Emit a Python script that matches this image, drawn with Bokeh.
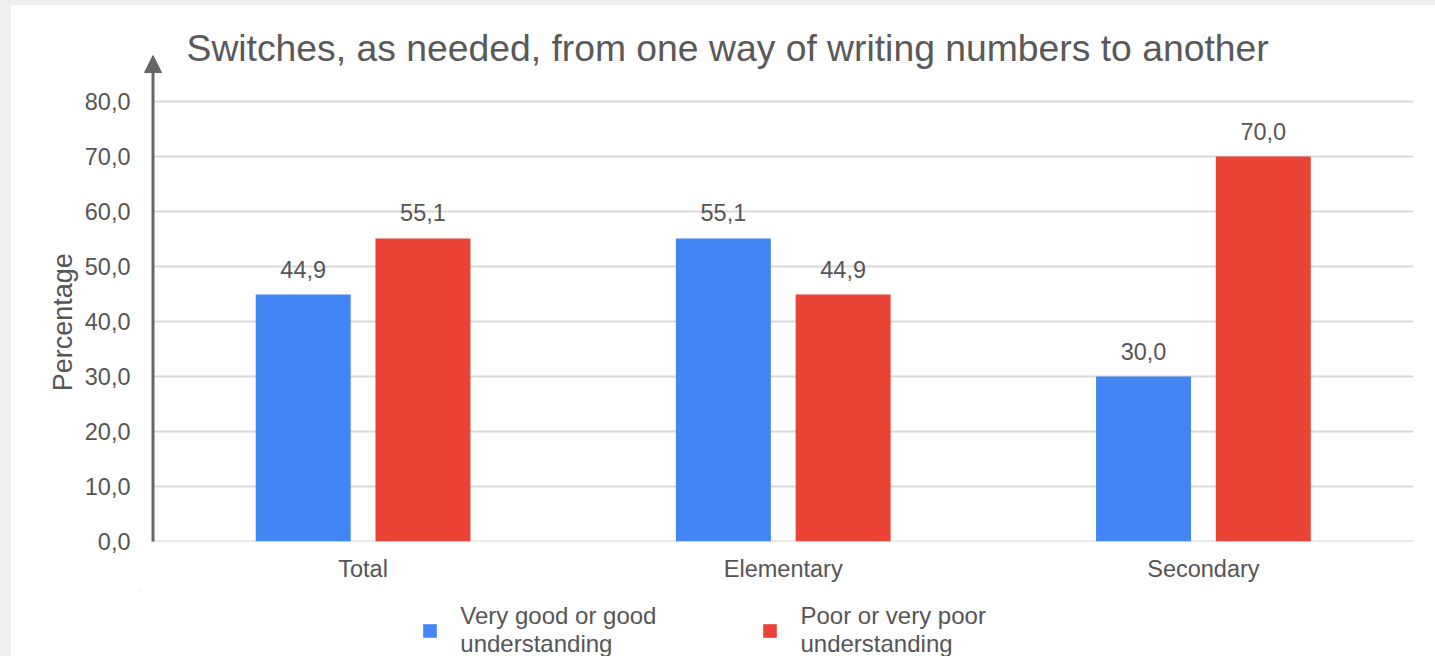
from bokeh.plotting import figure
from bokeh.models import (ColumnDataSource, Range1d, FixedTicker, Arrow, NormalHead,
                          Label, LabelSet, Legend, LegendItem)
from bokeh.transform import dodge
from bokeh.layouts import column
from bokeh.core.properties import value
from bokeh.embed import file_html
from bokeh.resources import INLINE

# ---- data ----
categories = ["Total", "Elementary", "Secondary"]
good = [44.9, 55.1, 30.0]
poor = [55.1, 44.9, 70.0]
series_names = ["Very good or good\nunderstanding", "Poor or very poor\nunderstanding"]
y_ticks = [0, 10, 20, 30, 40, 50, 60, 70, 80]
y_tick_labels = ["0,0", "10,0", "20,0", "30,0", "40,0", "50,0", "60,0", "70,0", "80,0"]
title_text = "Switches, as needed, from one way of writing numbers to another"
y_title = "Percentage"

BLUE = "#4285F4"
RED = "#EA4335"
TXT = "#555555"
FONT = "Liberation Sans"
PAGE_BG = "#efefef"

# ---- geometry (canvas pixels) ----
OFF_X, OFF_Y = 11, 5
LEG_H = 66                         # strip under the chart holding the legend
FIG_W = 1435 - OFF_X
FIG_H = 656 - OFF_Y - LEG_H
FR_L, FR_R, FR_T, FR_B = 140, 1413, 20, 541
AX_X = 152.5                      # where the category band starts (y axis line)
PX_PER_UNIT = (541 - 101) / 80.0
ncat = len(categories)
PX_PER_CAT = (FR_R - AX_X) / ncat
x_start = -(AX_X - FR_L) / PX_PER_CAT
y_end = (FR_B - FR_T) / PX_PER_UNIT

def sy_to_data(py):
    return (FR_B - py) / PX_PER_UNIT

def sx_to_data(px):
    return (px - AX_X) / PX_PER_CAT

centers = [i + 0.5 for i in range(ncat)]

src = ColumnDataSource(dict(
    x=centers, good=good, poor=poor,
    good_lbl=[f"{v:.1f}".replace(".", ",") for v in good],
    poor_lbl=[f"{v:.1f}".replace(".", ",") for v in poor],
))
grid_src = ColumnDataSource(dict(y=y_ticks, x0=[0] * len(y_ticks), x1=[ncat] * len(y_ticks)))

p = figure(x_range=Range1d(x_start, ncat), y_range=Range1d(0, y_end),
           width=FIG_W, height=FIG_H, output_backend="svg", toolbar_location=None,
           min_border_left=FR_L - OFF_X, min_border_right=1435 - FR_R,
           min_border_top=FR_T - OFF_Y, min_border_bottom=OFF_Y + FIG_H - FR_B)
p.border_fill_color = "white"
p.background_fill_color = "white"
p.outline_line_color = None
p.margin = (OFF_Y, 0, 0, OFF_X)

# grid lines (from the tick values)
p.segment(x0="x0", x1="x1", y0="y", y1="y", source=grid_src, line_color="#dadada", line_width=2)

BW = 0.226
OFS = 0.1425
bar_kw = dict(width=BW, source=src, line_color=None)
r1 = p.vbar(x=dodge("x", -OFS), top="good", fill_color=BLUE, **bar_kw)
r2 = p.vbar(x=dodge("x", OFS), top="poor", fill_color=RED, **bar_kw)

for col, ycol, off in (("good_lbl", "good", -OFS), ("poor_lbl", "poor", OFS)):
    ls = LabelSet(x=dodge("x", off), y=ycol, text=col, source=src,
                  y_offset=17, text_align="center", text_baseline="alphabetic",
                  text_font=value(FONT), text_font_size=value("23.5px"), text_color=TXT)
    p.add_layout(ls)

# axes
p.yaxis.ticker = FixedTicker(ticks=y_ticks)
p.yaxis.bounds = (0, 80)
p.yaxis.major_label_overrides = {t: l for t, l in zip(y_ticks, y_tick_labels)}
p.yaxis.axis_line_color = None
p.yaxis.major_tick_line_color = None
p.yaxis.minor_tick_line_color = None
p.yaxis.major_label_standoff = 4
p.yaxis.major_label_text_font = FONT
p.yaxis.major_label_text_font_size = "23.5px"
p.yaxis.major_label_text_color = TXT
# trailing no-break spaces centre the visible word on the 0-80 span, as in the original
p.yaxis.axis_label = y_title + "\u00a0" * 11
p.yaxis.axis_label_text_font = FONT
p.yaxis.axis_label_text_font_size = "27px"
p.yaxis.axis_label_text_font_style = "normal"
p.yaxis.axis_label_text_color = TXT
p.yaxis.axis_label_standoff = 4

p.xaxis.ticker = FixedTicker(ticks=centers)
p.xaxis.major_label_overrides = {c: n for c, n in zip(centers, categories)}
p.xaxis.axis_line_color = None
p.xaxis.major_tick_line_color = None
p.xaxis.minor_tick_line_color = None
p.xaxis.major_label_standoff = 8
p.xaxis.major_label_text_font = FONT
p.xaxis.major_label_text_font_size = "23.5px"
p.xaxis.major_label_text_color = TXT

p.xgrid.grid_line_color = None
p.ygrid.grid_line_color = None

# arrow axis line
p.add_layout(Arrow(end=NormalHead(size=17, fill_color="#666666", line_color="#666666"),
                   x_start=0, y_start=sy_to_data(543),
                   x_end=0, y_end=sy_to_data(55),
                   line_color="#666666", line_width=3))

# title
p.add_layout(Label(x=sx_to_data(186), y=sy_to_data(47), text=title_text,
                   text_font=FONT, text_font_size="37.3px", text_color="#595959",
                   text_baseline="alphabetic", text_align="left"))

# ---- legend strip (same data, bars kept outside its visible ranges) ----
leg = figure(width=FIG_W, height=LEG_H, output_backend="svg", toolbar_location=None,
             x_range=Range1d(10, 11), y_range=Range1d(-2, -1),
             x_axis_type=None, y_axis_type=None,
             min_border_left=0, min_border_right=0, min_border_top=0, min_border_bottom=0)
leg.border_fill_color = "white"
leg.background_fill_alpha = 0
leg.outline_line_color = None
leg.xgrid.grid_line_color = None
leg.ygrid.grid_line_color = None
leg.margin = (0, 0, 0, OFF_X)
lr1 = leg.vbar(x=dodge("x", -OFS), top="good", fill_color=BLUE, **bar_kw)
lr2 = leg.vbar(x=dodge("x", OFS), top="poor", fill_color=RED, **bar_kw)

legend = Legend(items=[LegendItem(label=series_names[0], renderers=[lr1]),
                       LegendItem(label=series_names[1], renderers=[lr2])],
                orientation="horizontal", location=(421.3 - FR_L, -2),
                glyph_width=17, glyph_height=17, label_standoff=22, spacing=105,
                padding=0, margin=0, border_line_color=None, background_fill_alpha=0,
                label_text_font=FONT, label_text_font_size="24px", label_text_color=TXT)
leg.add_layout(legend, "center")

page_bg = (f"linear-gradient({PAGE_BG},{PAGE_BG}) 0 0/100% {OFF_Y}px no-repeat, "
           f"linear-gradient({PAGE_BG},{PAGE_BG}) 0 0/{OFF_X}px 100% no-repeat, #ffffff")
root = column(p, leg, width=1435, height=656, spacing=0,
              styles={"background": page_bg})
open("out.html", "w").write(file_html(root, INLINE))
